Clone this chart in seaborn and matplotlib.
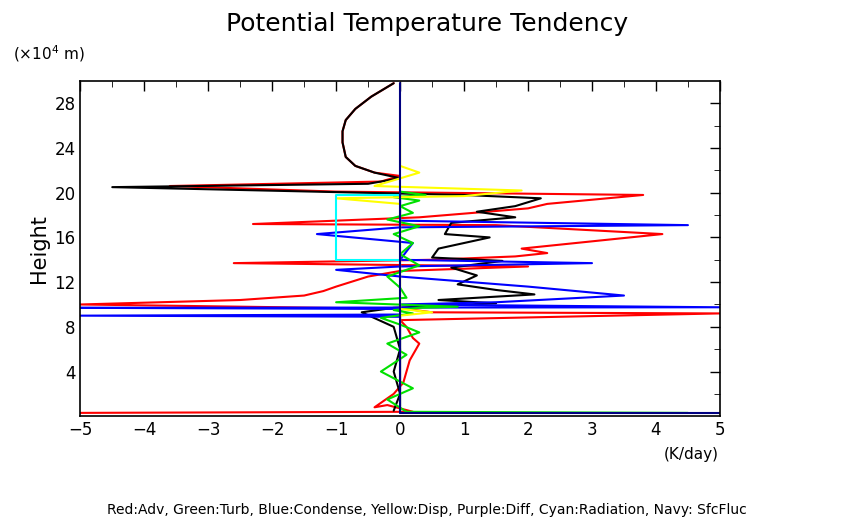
import matplotlib
matplotlib.use("Agg")
import matplotlib.pyplot as plt
import seaborn as sns
import pandas as pd

sns.set_style("white")
plt.rcParams['font.family'] = ['DejaVu Sans']
plt.rcParams['text.color'] = 'black'
plt.rcParams['axes.labelcolor'] = 'black'
plt.rcParams['xtick.color'] = 'black'
plt.rcParams['ytick.color'] = 'black'

# profiles: (tendency K/day, height x10^4 m)
red_x = [-5, 0.2, -0.2, -0.4, -0.1, 0.05, 0.1, 0.15, 0.25, 0.3, 0.2, 0.1, 0.0, 5, 0.5, 0.1, -5, -2.5, -1.5, -1.2, -1.0, -0.5, 0.0, 2.0, -2.6, 0.5, 1.8, 2.3, 1.9, 4.1, 1.5, -2.3, 0.3, 2.0, 2.3, 3.8, -1.0, -3.6, -0.3, 0.0, -0.4, -0.7, -0.85, -0.9, -0.9, -0.85, -0.7, -0.45, -0.1]
red_y = [0.3, 0.4, 1.0, 0.8, 2.0, 3.0, 4.0, 5.0, 6.0, 6.5, 7.0, 8.0, 8.6, 9.2, 9.3, 9.6, 10.0, 10.4, 10.8, 11.2, 11.6, 12.5, 13.0, 13.4, 13.7, 14.0, 14.3, 14.6, 15.0, 16.3, 17.1, 17.2, 17.8, 18.6, 19.0, 19.8, 20.1, 20.6, 21.0, 21.5, 21.8, 22.4, 23.2, 24.5, 25.5, 26.5, 27.5, 28.6, 29.8]

black_x = [-0.1, 0.0, -0.1, 0.0, -0.1, -0.6, -0.1, 1.5, 0.6, 2.1, 1.5, 0.9, 1.2, 0.8, 1.6, 0.5, 0.6, 1.4, 0.7, 0.8, 1.8, 1.2, 1.8, 2.2, 1.0, -4.5, -0.5, 0.0, -0.4, -0.7, -0.85, -0.9, -0.9, -0.85, -0.7, -0.45, -0.1]
black_y = [0.5, 2.0, 4.0, 6.0, 8.0, 9.3, 9.7, 10.1, 10.4, 10.9, 11.3, 11.8, 12.6, 13.3, 13.9, 14.2, 15.0, 16.0, 16.3, 17.3, 17.8, 18.3, 18.8, 19.5, 19.8, 20.5, 20.8, 21.3, 21.8, 22.4, 23.2, 24.5, 25.5, 26.5, 27.5, 28.6, 29.8]

blue_x = [0.0, 0.0, -5, 0.0, 0.0, -5, 5, 0.0, 1.5, 3.5, 2.0, 0.0, -1.0, 0.0, 3.0, 0.0, 0.2, -1.3, 0.0, 4.5, 0.0, 0.0]
blue_y = [0.3, 8.9, 9.0, 9.1, 9.6, 9.7, 9.75, 10.0, 10.2, 10.8, 11.6, 12.5, 13.1, 13.4, 13.7, 14.0, 15.5, 16.3, 16.9, 17.1, 17.5, 20.0]

green_x = [4.5, 0.1, -0.2, 0.2, -0.3, 0.1, -0.2, 0.3, 0.0, -0.3, 0.2, -0.1, 0.3, 0.9, -1.0, 0.1, 0.0, -0.2, 0.3, 0.0, 0.2, -0.1, 0.3, -0.2, 0.2, 0.0, 0.3, -0.1, 0.4, 0.0]
green_y = [0.3, 0.4, 1.5, 2.5, 4.0, 5.5, 6.5, 7.5, 8.2, 8.8, 9.2, 9.5, 9.7, 9.8, 10.2, 10.6, 11.5, 12.5, 13.5, 14.5, 15.5, 16.3, 17.0, 17.6, 18.2, 18.8, 19.3, 19.6, 19.8, 20.1]

yellow_x = [0.0, 0.0, 0.5, 0.0, 0.0, -1.0, 1.0, 1.9, -0.4, 0.3, 0.0, 0.0]
yellow_y = [0.5, 9.0, 9.3, 9.6, 19.0, 19.5, 19.7, 20.2, 20.6, 21.8, 22.4, 25.0]

cyan_x = [0.0, -1.0, -1.0, 0.0]
cyan_y = [14.0, 14.0, 19.8, 19.8]

navy_x = [5, 0.0, 0.0]
navy_y = [0.3, 0.3, 29.8]

series = [(red_x, red_y, "red"), (black_x, black_y, "black"), (blue_x, blue_y, "blue"),
          (green_x, green_y, "#00e000"), (yellow_x, yellow_y, "yellow"),
          (cyan_x, cyan_y, "cyan"), (navy_x, navy_y, "navy")]

fig = plt.figure(figsize=(8.54, 5.19), dpi=100)
ax = fig.add_axes([0.094, 0.198, 0.749, 0.646])
for xs, ys, col in series:
    df = pd.DataFrame({"val": xs, "h": ys})
    sns.lineplot(data=df, x="val", y="h", sort=False, estimator=None, color=col, lw=1.5, ax=ax)

ax.set_xlim(-5, 5)
ax.set_ylim(0, 30)
ax.set_xticks(range(-5, 6))
ax.set_yticks(range(4, 30, 4))
ax.set_xticks([x + 0.5 for x in range(-5, 5)], minor=True)
ax.set_yticks(range(2, 30, 2), minor=True)
ax.tick_params(direction="in", top=True, right=True, length=7, labelsize=12, width=1)
ax.tick_params(which="minor", direction="in", top=True, right=True, length=4)
for s in ax.spines.values():
    s.set_linewidth(1.2)
    s.set_color("black")
ax.set_xlabel("")
ax.set_ylabel("Height", fontsize=15)
fig.text(0.5, 0.94, "Potential Temperature Tendency", ha="center", fontsize=18)
fig.text(0.015, 0.885, "(×10$^4$ m)", fontsize=11)
fig.text(0.777, 0.115, "(K/day)", fontsize=11)
fig.text(0.5, 0.01, "Red:Adv, Green:Turb, Blue:Condense, Yellow:Disp, Purple:Diff, Cyan:Radiation, Navy: SfcFluc",
         ha="center", fontsize=10)
fig.savefig("out.png", dpi=100)
